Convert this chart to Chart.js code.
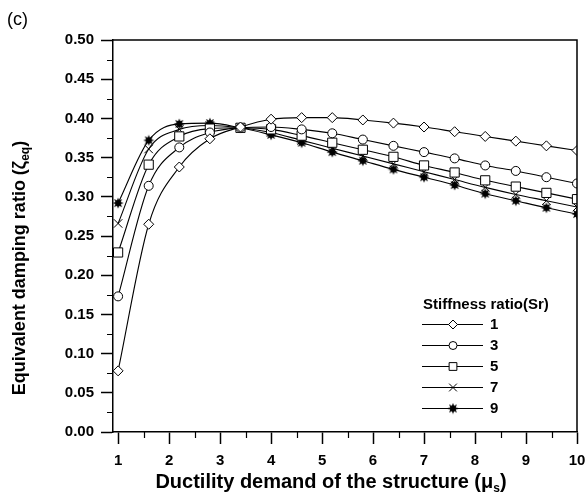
<!DOCTYPE html>
<html>
<head>
<meta charset="utf-8">
<script src="https://cdn.jsdelivr.net/npm/chart.js@4.4.0/dist/chart.umd.min.js"></script>
<style>
  body { margin: 0; background: #fff; }
  #wrap { width: 587px; height: 494px; }
</style>
</head>
<body>
<div id="wrap"><canvas id="chart" width="587" height="494"></canvas></div>
<script>
/* data */
const ductility = [1, 1.6, 2.2, 2.8, 3.4, 4.0, 4.6, 5.2, 5.8, 6.4, 7.0, 7.6, 8.2, 8.8, 9.4, 10];
const sr1 = [0.078, 0.265, 0.338, 0.374, 0.389, 0.399, 0.401, 0.401, 0.398, 0.394, 0.389, 0.383, 0.377, 0.371, 0.365, 0.359];
const sr3 = [0.173, 0.314, 0.363, 0.382, 0.388, 0.389, 0.386, 0.381, 0.373, 0.365, 0.357, 0.349, 0.340, 0.333, 0.325, 0.317];
const sr5 = [0.229, 0.341, 0.377, 0.387, 0.388, 0.386, 0.378, 0.369, 0.360, 0.351, 0.340, 0.331, 0.321, 0.313, 0.305, 0.297];
const sr7 = [0.266, 0.361, 0.386, 0.391, 0.388, 0.382, 0.372, 0.362, 0.352, 0.342, 0.332, 0.322, 0.312, 0.303, 0.295, 0.287];
const sr9 = [0.292, 0.372, 0.393, 0.394, 0.388, 0.379, 0.369, 0.357, 0.346, 0.335, 0.325, 0.315, 0.304, 0.295, 0.286, 0.278];
const seriesNames = ['1', '3', '5', '7', '9'];
const xTicks = [1, 2, 3, 4, 5, 6, 7, 8, 9, 10];
const yTicks = [0, 0.05, 0.10, 0.15, 0.20, 0.25, 0.30, 0.35, 0.40, 0.45, 0.50];

const FONT = '"Liberation Sans", Arial, sans-serif';

// filled star marker (the library has no filled star)
function makeStar() {
  const c = document.createElement('canvas');
  c.width = 12; c.height = 12;
  const g = c.getContext('2d');
  g.fillStyle = '#000';
  g.beginPath();
  for (let i = 0; i < 16; i++) {
    const r = i % 2 === 0 ? 5.6 : 2.9;
    const a = Math.PI * i / 8 - Math.PI / 2;
    const px = 6 + r * Math.cos(a), py = 6 + r * Math.sin(a);
    if (i === 0) g.moveTo(px, py); else g.lineTo(px, py);
  }
  g.closePath();
  g.fill();
  return c;
}
const starImg = makeStar();

const styles = [
  { pointStyle: 'rectRot', pointRadius: 5, legendRadius: 4.5 },
  { pointStyle: 'circle', pointRadius: 4.5, legendRadius: 4 },
  { pointStyle: 'rect', pointRadius: 6.5, legendRadius: 5.5 },
  { pointStyle: 'crossRot', pointRadius: 6, legendRadius: 5.5 },
  { pointStyle: starImg, pointRadius: 5, legendRadius: 5 }
];

function pts(ys) {
  return ductility.map((x, i) => ({ x: x, y: ys[i] }));
}

const datasets = [sr1, sr3, sr5, sr7, sr9].map((ys, i) => ({
  label: seriesNames[i],
  data: pts(ys),
  borderColor: '#000',
  borderWidth: 1.1,
  backgroundColor: '#fff',
  pointBackgroundColor: '#fff',
  pointBorderColor: '#000',
  pointBorderWidth: 1,
  pointStyle: styles[i].pointStyle,
  pointRadius: styles[i].pointRadius,
  cubicInterpolationMode: 'monotone',
  fill: false
}));

// frame, minor ticks, titles and the legend
const extras = {
  id: 'extras',
  afterDraw(chart) {
    const ctx = chart.ctx;
    const a = chart.chartArea;
    const xs = chart.scales.x, ys = chart.scales.y;
    ctx.save();
    ctx.strokeStyle = '#000';
    ctx.lineWidth = 1.5;
    ctx.beginPath();
    ctx.moveTo(a.left, a.top); ctx.lineTo(a.right, a.top); ctx.lineTo(a.right, a.bottom);
    ctx.stroke();

    // minor ticks
    ctx.lineWidth = 1.2;
    ctx.beginPath();
    for (let i = 0; i < yTicks.length - 1; i++) {
      const py = Math.round(ys.getPixelForValue((yTicks[i] + yTicks[i + 1]) / 2)) + 0.5;
      ctx.moveTo(a.left - 6, py); ctx.lineTo(a.left, py);
    }
    for (let i = 0; i < xTicks.length - 1; i++) {
      const px = Math.round(xs.getPixelForValue((xTicks[i] + xTicks[i + 1]) / 2)) + 0.5;
      ctx.moveTo(px, a.bottom); ctx.lineTo(px, a.bottom + 6);
    }
    ctx.stroke();

    ctx.fillStyle = '#000';
    // panel label
    ctx.font = '18px ' + FONT;
    ctx.textBaseline = 'middle';
    ctx.textAlign = 'left';
    ctx.fillText('(c)', 7, 20);

    // x title with subscript
    const bigX = 'bold 20px ' + FONT;
    const subFont = 'bold 12px ' + FONT;
    const xt1 = 'Ductility demand of the structure (\u03bc';
    ctx.font = subFont;
    const wSub = ctx.measureText('s').width;
    ctx.font = bigX;
    const w1 = ctx.measureText(xt1).width;
    const w2 = ctx.measureText(')').width;
    const x0 = 331 - (w1 + wSub + w2) / 2;
    const yb = 488;
    ctx.textBaseline = 'alphabetic';
    ctx.fillText(xt1, x0, yb);
    ctx.font = subFont;
    ctx.fillText('s', x0 + w1, yb + 4);
    ctx.font = bigX;
    ctx.fillText(')', x0 + w1 + wSub, yb);

    // y title, rotated
    const bigY = 'bold 18px ' + FONT;
    ctx.save();
    ctx.translate(25, 268);
    ctx.rotate(-Math.PI / 2);
    const yt1 = 'Equivalent damping ratio (\u03b6';
    ctx.font = subFont;
    const wq = ctx.measureText('eq').width;
    ctx.font = bigY;
    const wy1 = ctx.measureText(yt1).width;
    const wy2 = ctx.measureText(')').width;
    const y0 = -(wy1 + wq + wy2) / 2;
    ctx.fillText(yt1, y0, 0);
    ctx.font = subFont;
    ctx.fillText('eq', y0 + wy1, 4);
    ctx.font = bigY;
    ctx.fillText(')', y0 + wy1 + wq, 0);
    ctx.restore();

    // legend
    ctx.font = 'bold 15px ' + FONT;
    ctx.textBaseline = 'middle';
    ctx.fillText('Stiffness ratio(Sr)', 423, 305);
    chart.data.datasets.forEach((ds, i) => {
      const ly = 324 + i * 21;
      ctx.strokeStyle = '#000';
      ctx.lineWidth = 1;
      ctx.beginPath();
      ctx.moveTo(422, ly + 0.5); ctx.lineTo(483, ly + 0.5);
      ctx.stroke();
      ctx.fillStyle = '#fff';
      ctx.strokeStyle = '#000';
      Chart.helpers.drawPoint(ctx, {
        pointStyle: ds.pointStyle, rotation: 0,
        radius: styles[i].legendRadius, borderWidth: 1
      }, 453, ly + 0.5);
      ctx.fillStyle = '#000';
      ctx.font = 'bold 15px ' + FONT;
      ctx.fillText(ds.label, 490, ly + 1);
    });
    ctx.restore();
  }
};

new Chart(document.getElementById('chart'), {
  type: 'line',
  data: { datasets: datasets },
  plugins: [extras],
  options: {
    responsive: false,
    animation: false,
    devicePixelRatio: 1,
    layout: { padding: { top: 40, right: 10, left: 0, bottom: 0 } },
    plugins: { legend: { display: false }, tooltip: { enabled: false } },
    scales: {
      x: {
        type: 'linear',
        min: 0.9,
        max: 10,
        afterBuildTicks: s => { s.ticks = xTicks.map(v => ({ value: v })); },
        afterFit: s => { s.height = 62; s.paddingRight = 0; s.paddingLeft = 0; },
        grid: { drawOnChartArea: false, tickLength: 12, tickColor: '#000', tickWidth: 1.5 },
        border: { color: '#000', width: 1.5 },
        ticks: { color: '#000', font: { family: FONT, size: 15, weight: 'bold' }, padding: 8, maxRotation: 0 }
      },
      y: {
        min: 0,
        max: 0.5,
        afterBuildTicks: s => { s.ticks = yTicks.map(v => ({ value: v })); },
        afterFit: s => { s.width = 113; s.paddingTop = 0; s.paddingBottom = 0; },
        grid: { drawOnChartArea: false, tickLength: 12, tickColor: '#000', tickWidth: 1.5 },
        border: { color: '#000', width: 1.5 },
        ticks: {
          color: '#000', font: { family: FONT, size: 15, weight: 'bold' }, padding: 7,
          callback: v => v.toFixed(2)
        }
      }
    }
  }
});
</script>
</body>
</html>
